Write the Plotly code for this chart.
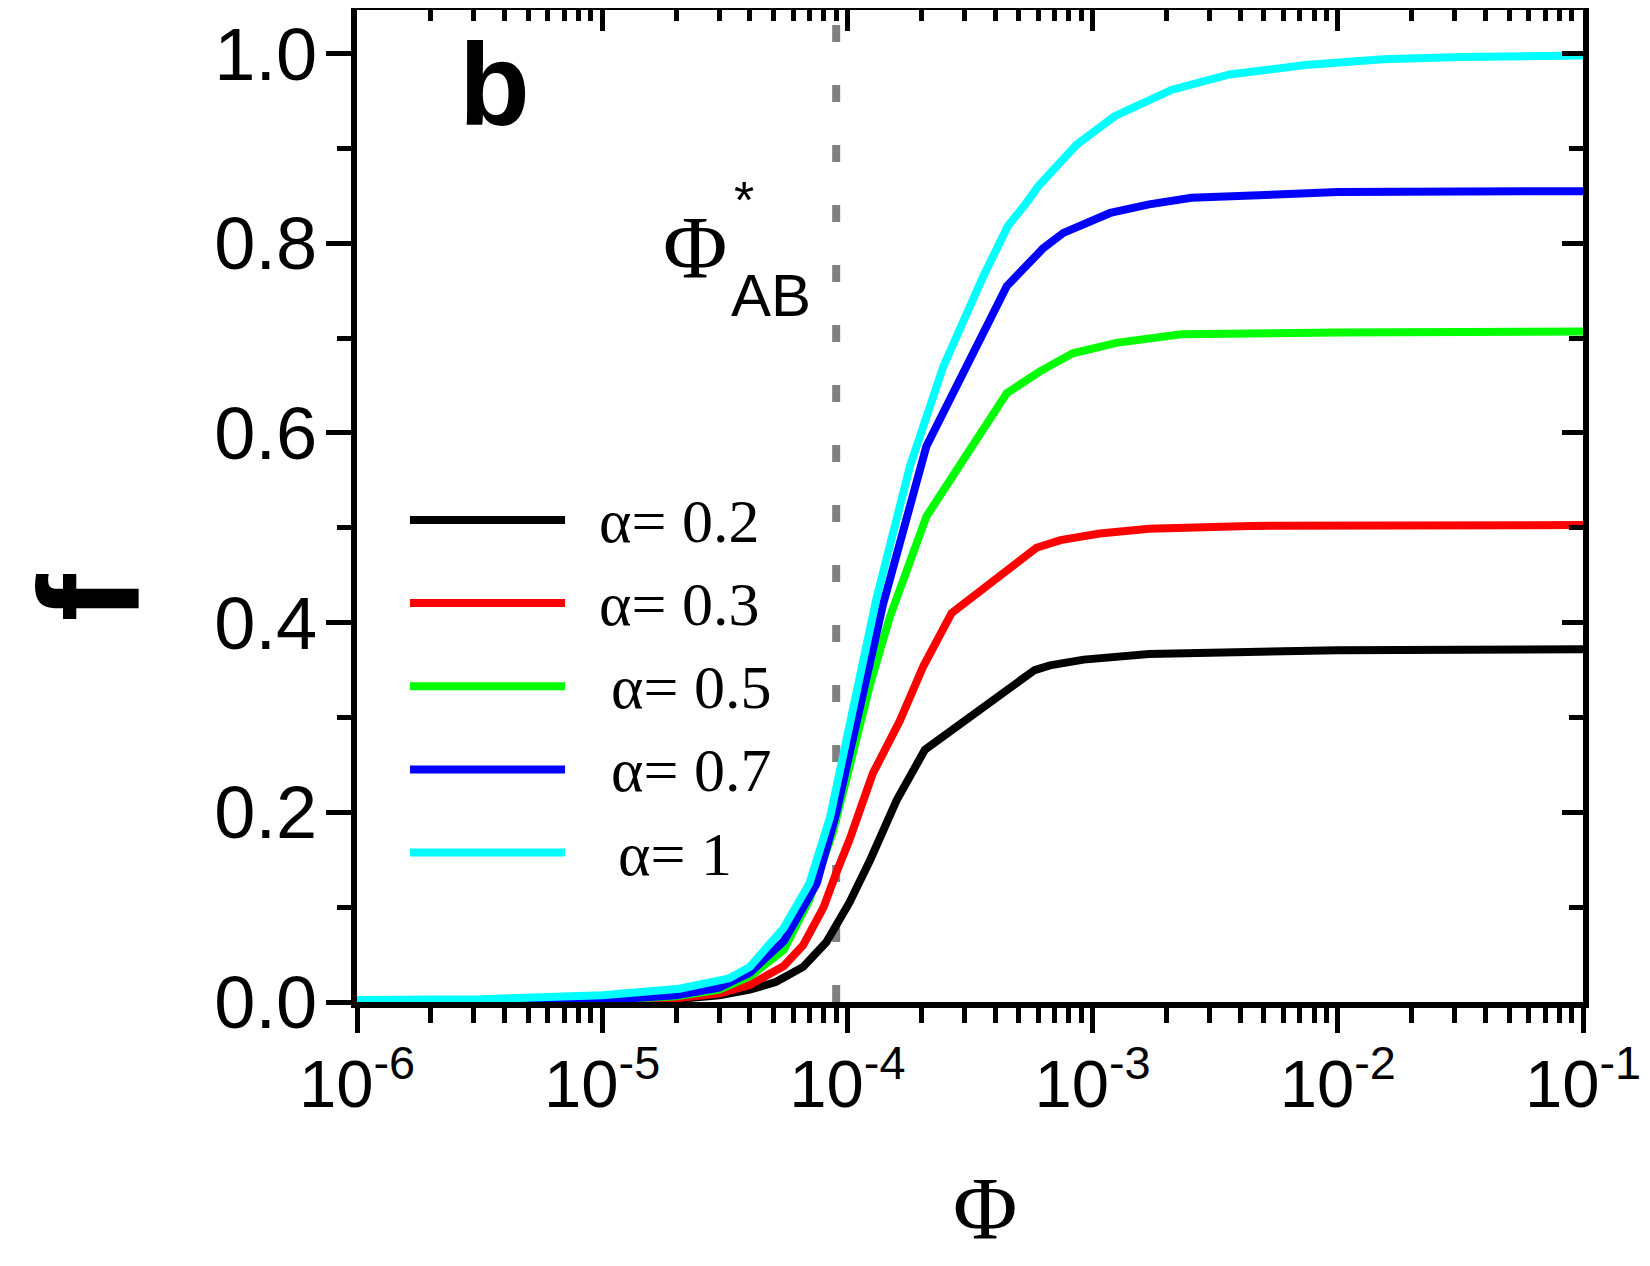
import plotly.graph_objects as go

# values
phi_black = [1e-6, 1e-5, 2e-5, 3e-5, 4e-5, 5.1e-5, 6.6e-5, 8.2e-5, 1.02e-4, 1.24e-4, 1.59e-4,
             2.07e-4, 5.8e-4, 6.7e-4, 9.2e-4, 1.7e-3, 4.4e-3, 1e-2, 1e-1]
f_black = [0, 0.001, 0.003, 0.007, 0.013, 0.021, 0.037, 0.063, 0.105, 0.150, 0.213,
           0.266, 0.350, 0.355, 0.361, 0.367, 0.370, 0.371, 0.372]

phi_red = [1e-6, 1e-5, 2e-5, 3e-5, 4e-5, 5.5e-5, 6.6e-5, 8e-5, 9e-5, 1.02e-4, 1.27e-4,
           1.64e-4, 2.04e-4, 2.66e-4, 5.9e-4, 7.4e-4, 1.07e-3, 1.7e-3, 4.4e-3, 1e-1]
f_red = [0, 0.001, 0.004, 0.009, 0.018, 0.038, 0.060, 0.100, 0.136, 0.171, 0.241,
         0.297, 0.354, 0.410, 0.479, 0.487, 0.494, 0.499, 0.502, 0.503]

phi_green = [1e-6, 1e-5, 2e-5, 3e-5, 4e-5, 5.5e-5, 7e-5, 8.7e-5, 1.02e-4, 1.24e-4, 1.49e-4,
             2.1e-4, 4.47e-4, 6.1e-4, 8.3e-4, 1.25e-3, 2.3e-3, 1e-2, 1e-1]
f_green = [0, 0.002, 0.006, 0.013, 0.027, 0.055, 0.108, 0.178, 0.248, 0.336, 0.406,
           0.512, 0.642, 0.665, 0.684, 0.695, 0.704, 0.706, 0.707]

phi_blue = [1e-6, 1e-5, 2e-5, 3e-5, 4e-5, 5.5e-5, 7.5e-5, 9e-5, 1.02e-4, 1.2e-4, 1.4e-4,
            2.1e-4, 4.47e-4, 6.3e-4, 7.6e-4, 1.18e-3, 1.7e-3, 2.53e-3, 4.4e-3, 1e-2, 1e-1]
f_blue = [0, 0.002, 0.007, 0.015, 0.031, 0.064, 0.125, 0.199, 0.262, 0.343, 0.420,
          0.586, 0.755, 0.795, 0.811, 0.832, 0.841, 0.848, 0.851, 0.854, 0.855]

phi_cyan = [1e-6, 3.2e-6, 1e-5, 2.07e-5, 3.3e-5, 4e-5, 5.5e-5, 7e-5, 8.5e-5, 9.9e-5, 1.16e-4,
            1.31e-4, 1.8e-4, 2.46e-4, 3.58e-4, 4.51e-4, 5.38e-4, 6e-4, 8.6e-4, 1.23e-3,
            2.11e-3, 3.62e-3, 7.4e-3, 1.53e-2, 3.13e-2, 1e-1]
f_cyan = [0.002, 0.003, 0.007, 0.014, 0.025, 0.037, 0.078, 0.125, 0.195, 0.273, 0.354,
          0.424, 0.565, 0.670, 0.765, 0.818, 0.843, 0.860, 0.904, 0.934,
          0.962, 0.978, 0.988, 0.994, 0.9965, 0.998]

labels = ["α= 0.2", "α= 0.3", "α= 0.5", "α= 0.7", "α= 1"]
colors = ["#000000", "#FF0000", "#00FF00", "#0000FF", "#00FFFF"]
phi_star = 9e-5

x_tickvals = [1e-6, 1e-5, 1e-4, 1e-3, 1e-2, 1e-1]
x_ticktext = ["10<sup>-6</sup>", "10<sup>-5</sup>", "10<sup>-4</sup>",
              "10<sup>-3</sup>", "10<sup>-2</sup>", "10<sup>-1</sup>"]
x_minor = [m * v for v in x_tickvals[:-1] for m in range(2, 10)]

series = [(phi_black, f_black), (phi_red, f_red), (phi_green, f_green),
          (phi_blue, f_blue), (phi_cyan, f_cyan)]

fig = go.Figure()

fig.add_trace(go.Scatter(x=[phi_star, phi_star], y=[0, 1.05], mode="lines",
                         line=dict(color="#808080", width=8, dash="17px,43px"),
                         showlegend=False, hoverinfo="skip"))

for (xs, ys), name, col in zip(series, labels, colors):
    fig.add_trace(go.Scatter(x=xs, y=ys, mode="lines", name=name,
                             line=dict(color=col, width=8), showlegend=False))

# invisible trace so the mirrored (inside-tick) axes get drawn
fig.add_trace(go.Scatter(x=phi_black, y=f_black, xaxis="x2", yaxis="y2", mode="lines",
                         opacity=0, showlegend=False, hoverinfo="skip"))

# hand-made legend (long line samples like the original)
legend_top = 0.4859
legend_step = 0.0838
text_shift = [0, 0, 12, 12, 19]
for i, (name, col) in enumerate(zip(labels, colors)):
    yy = legend_top - i * legend_step
    fig.add_shape(type="line", xref="paper", yref="paper", x0=0.0432, x1=0.1697, y0=yy, y1=yy,
                  line=dict(color=col, width=8))
    fig.add_annotation(x=0.1960, y=yy, xref="paper", yref="paper", text=name, showarrow=False,
                       xanchor="left", yanchor="middle", xshift=text_shift[i], yshift=-1,
                       font=dict(family="Liberation Serif", size=62, color="black"))


def label(x, y, text, family, size, **kw):
    fig.add_annotation(x=x, y=y, xref="paper", yref="paper", text=text, showarrow=False,
                       xanchor="center", yanchor="middle",
                       font=dict(family=family, size=size, color="black"), **kw)


# panel letter, axis titles, Phi*_AB label
label(0.1122, 0.9240, "<b>b</b>", "Liberation Sans", 116)
label(-0.2185, 0.4078, "<b>f</b>", "Liberation Sans", 142, textangle=-90)
label(0.5122, -0.2077, "Φ", "Liberation Serif", 88)
label(0.2757, 0.7606, "Φ", "Liberation Serif", 88)
label(0.3153, 0.8080, "*", "Liberation Sans", 52)
label(0.3375, 0.7117, "AB", "Liberation Sans", 60)

fig.update_layout(
    width=1634, height=1250,
    margin=dict(l=349, r=59, t=2, b=256, autoexpand=False),
    plot_bgcolor="white", paper_bgcolor="white",
    showlegend=False,
    xaxis=dict(type="log", range=[-6, -1], showgrid=False, zeroline=False, automargin=False,
               showline=True, linewidth=6, linecolor="black", mirror=True,
               ticks="outside", ticklen=25, tickwidth=5, tickcolor="black",
               tickmode="array", tickvals=x_tickvals, ticktext=x_ticktext,
               tickfont=dict(family="Liberation Sans", size=67, color="black"),
               ticklabeloverflow="allow", ticklabelstandoff=-6,
               minor=dict(tickmode="array", tickvals=x_minor, ticks="outside", ticklen=15,
                          tickwidth=5, tickcolor="black", showgrid=False)),
    yaxis=dict(range=[0, 1.046], showgrid=False, zeroline=False, automargin=False,
               showline=True, linewidth=6, linecolor="black", mirror=True,
               ticks="outside", ticklen=25, tickwidth=5, tickcolor="black",
               tick0=0, dtick=0.2, tickformat=".1f",
               tickfont=dict(family="Liberation Sans", size=74, color="black"),
               ticklabelstandoff=-6,
               minor=dict(dtick=0.1, ticks="outside", ticklen=14, tickwidth=5,
                          tickcolor="black", showgrid=False)),
    xaxis2=dict(type="log", range=[-6, -1], overlaying="x", side="top", anchor="y",
                showgrid=False, zeroline=False, showline=False, showticklabels=False,
                ticks="inside", ticklen=21, tickwidth=5, tickcolor="black",
                tickmode="array", tickvals=x_tickvals,
                minor=dict(tickmode="array", tickvals=x_minor, ticks="inside", ticklen=11,
                           tickwidth=5, tickcolor="black", showgrid=False)),
    yaxis2=dict(range=[0, 1.046], overlaying="y", side="right", anchor="x",
                showgrid=False, zeroline=False, showline=False, showticklabels=False,
                ticks="inside", ticklen=21, tickwidth=5, tickcolor="black",
                tick0=0, dtick=0.2,
                minor=dict(dtick=0.1, ticks="inside", ticklen=14, tickwidth=5,
                           tickcolor="black", showgrid=False)),
)

fig.write_html("out.html")
